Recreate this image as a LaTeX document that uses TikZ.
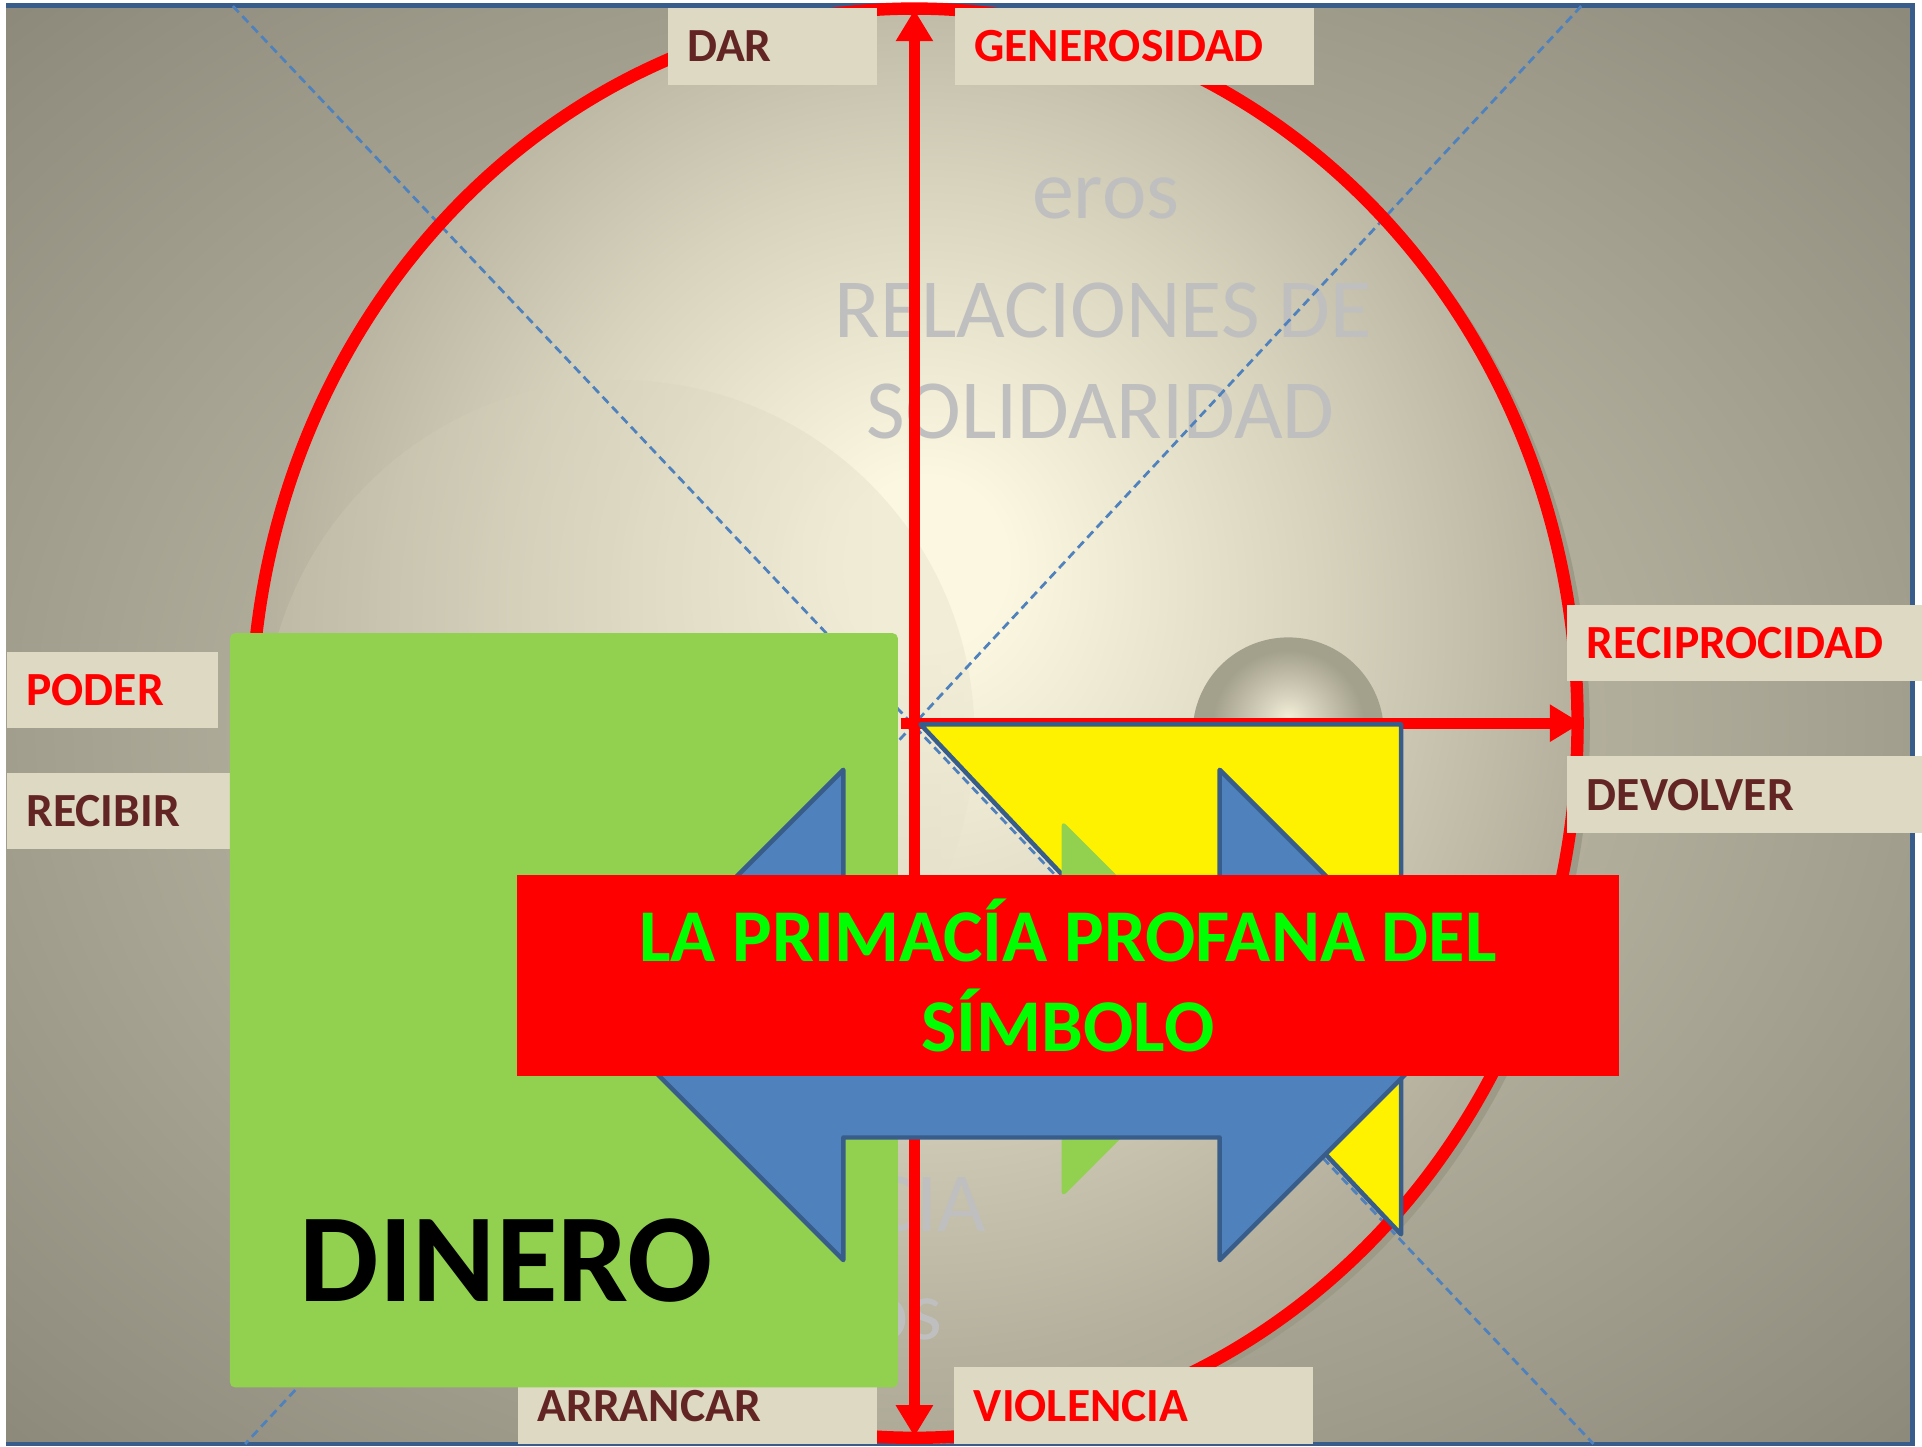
\documentclass[tikz,border=0pt]{standalone}
\usepackage{fontspec}
\setmainfont{Carlito}
\usetikzlibrary{arrows.meta, positioning}
\definecolor{tagfill}{RGB}{221,217,195}
\definecolor{tagbrown}{RGB}{99,37,35}
\definecolor{moneygreen}{RGB}{146,208,80}
\definecolor{arrowblue}{RGB}{79,129,189}
\definecolor{edgeblue}{RGB}{56,93,138}
\definecolor{faintgrey}{RGB}{191,191,191}
\definecolor{bannergreen}{RGB}{0,255,0}
\definecolor{bgin}{RGB}{202,198,177}
\definecolor{bgmid}{RGB}{176,172,154}
\definecolor{bgout}{RGB}{140,137,123}
\definecolor{eggin}{RGB}{252,247,225}
\definecolor{eggmid}{RGB}{216,211,189}
\definecolor{eggout}{RGB}{180,176,157}
\definecolor{eggrim}{RGB}{163,159,141}
\definecolor{eggshadow}{RGB}{158,154,136}
\definecolor{ballin}{RGB}{244,239,216}
\definecolor{ballmid}{RGB}{218,213,192}
\definecolor{ballout}{RGB}{163,160,140}
\definecolor{ringl}{RGB}{200,196,175}
\definecolor{ringr}{RGB}{232,227,204}
% shadings: the path box spans -25bp..25bp
\pgfdeclareradialshading{bgshade}{\pgfpoint{0bp}{0bp}}{color(0bp)=(bgin); color(18bp)=(bgmid); color(35.5bp)=(bgout); color(45bp)=(bgout)}
\pgfdeclareradialshading{eggshade}{\pgfpoint{0.5bp}{6bp}}{color(0bp)=(eggin); color(3bp)=(eggin); color(15bp)=(eggmid); color(25bp)=(eggout); color(32bp)=(eggrim); color(45bp)=(eggrim)}
\pgfdeclareradialshading{ballshade}{\pgfpoint{0bp}{4bp}}{color(0bp)=(ballin); color(6bp)=(ballmid); color(20bp)=(ballout); color(35bp)=(ballout)}
\newcommand{\tagfont}{\fontsize{13.8}{16}\selectfont\bfseries}
\newcommand{\faintfont}{\fontsize{24.4}{28}\selectfont}
\tikzset{
  tagbox/.style={
    anchor=north west, fill=tagfill, inner xsep=0.2cm, inner ysep=0pt,
    minimum height=0.78cm, align=left, font=\tagfont
  },
  tagred/.style={tagbox, text=red},
  tagdark/.style={tagbox, text=tagbrown},
  guide/.style={draw=arrowblue, line width=0.8pt, dash pattern=on 2.5pt off 1.5pt},
  axis/.style={draw=red, line width=3.2pt},
  faint/.style={text=faintgrey, inner sep=0pt, font=\faintfont},
  money/.style={
    anchor=north west, fill=moneygreen, inner sep=0pt, rounded corners=1.5pt,
    minimum width=6.81cm, minimum height=7.69cm
  },
  banner/.style={
    anchor=north west, fill=red, inner sep=0pt, align=center,
    minimum width=11.24cm, minimum height=2.05cm,
    text=bannergreen, font=\fontsize{21.6}{26}\selectfont\bfseries
  },
  twoway/.style={fill=arrowblue, draw=edgeblue, line width=1.3pt, line join=round},
  wedge/.style={fill=yellow, draw=edgeblue, line width=1.3pt, line join=round},
  >={Triangle[length=3.2mm,width=3.6mm]},
}
\begin{document}
\begin{tikzpicture}[x=0.0125cm, y=-0.0125cm]
  \useasboundingbox (0,0) rectangle (1568,1180);
  \fill[white] (0,0) rectangle (1568,1180);
  % background and frame
  \shade[shading=bgshade] (5,5) rectangle (1560,1178);
  \draw[edgeblue, line width=1.4pt] (5,4.5) -- (1560,4.5) -- (1560,1178) -- (5,1178);

  % egg
  \fill[eggshadow] (756,595) ellipse [x radius=541, y radius=583];
  \shade[shading=eggshade] (746,590) ellipse [x radius=541, y radius=583];
  \shade[left color=ringl, right color=ringr, opacity=0.45] (505,600) circle [radius=290];
  \shade[shading=ballshade] (1051,598) circle [radius=78];

  % faint words
  \node (eros)  [faint, anchor=base] at (902,178) {eros};
  \node (relac) [faint, anchor=base] at (900,275) {RELACIONES DE};
  \node (solid) [faint, anchor=base] at (898,358) {SOLIDARIDAD};
  \node (cia)   [faint, anchor=base east] at (805,1005) {CIA};
  \node (os)    [faint, anchor=base east] at (769,1093) {os};

  % axes
  \coordinate (hub)    at (746,590);
  \coordinate (zenith) at (746,8);
  \coordinate (nadir)  at (746,1172);
  \coordinate (hubw)   at (735,590);
  \coordinate (east)   at (1290,590);
  \draw[guide] (190,5) -- (1300,1178);
  \draw[guide] (1290,5) -- (200,1178);
  \draw[red, line width=3.6pt] (hub) ellipse [x radius=541, y radius=583];
  \draw[axis, <->] (nadir) -- (zenith);
  \draw[axis, ->] (hubw) -- (east);

  % labels
  \node (dar)    [tagdark, text width=1.74cm] at (544,6) {DAR};
  \node (gen)    [tagred, text width=3.26cm, right=0.775cm of dar.north east, anchor=north west] {GENEROSIDAD};
  \node (recip)  [tagred, text width=3.23cm] at (1278,493) {RECIPROCIDAD};
  \node (devol)  [tagdark, text width=3.23cm, below=0.75cm of recip.south west, anchor=north west] {DEVOLVER};
  \node (poder)  [tagred, text width=1.75cm] at (5,531) {PODER};
  \node (recib)  [tagdark, text width=1.88cm, below=0.44cm of poder.south west, anchor=north west] {RECIBIR};
  \node (arran)  [tagdark, text width=3.26cm] at (422,1115) {ARRANCAR};
  \node (viol)   [tagred, text width=3.26cm, right=0.775cm of arran.north east, anchor=north west] {VIOLENCIA};

  % shapes
  \draw[wedge] (751,591) -- (1143,591) -- (1143,1007) -- cycle;
  \fill[moneygreen, rounded corners=2pt] (866,669) -- (1020,823) -- (866,977) -- cycle;
  \node (money)  [money] at (187,516) {};
  \node (dinero) [anchor=base west, inner sep=0pt, font=\fontsize{36.6}{40}\selectfont\bfseries] at (244,1062) {DINERO};
  \draw[twoway] (488,828) -- (688,628) -- (688,728) -- (995,728) -- (995,628) -- (1195,828)
    -- (995,1028) -- (995,928) -- (688,928) -- (688,1028) -- cycle;
  \node (banner) [banner, yshift=0.05cm] at (421,717) {LA PRIMACÍA PROFANA DEL\\SÍMBOLO};
\end{tikzpicture}
\end{document}
